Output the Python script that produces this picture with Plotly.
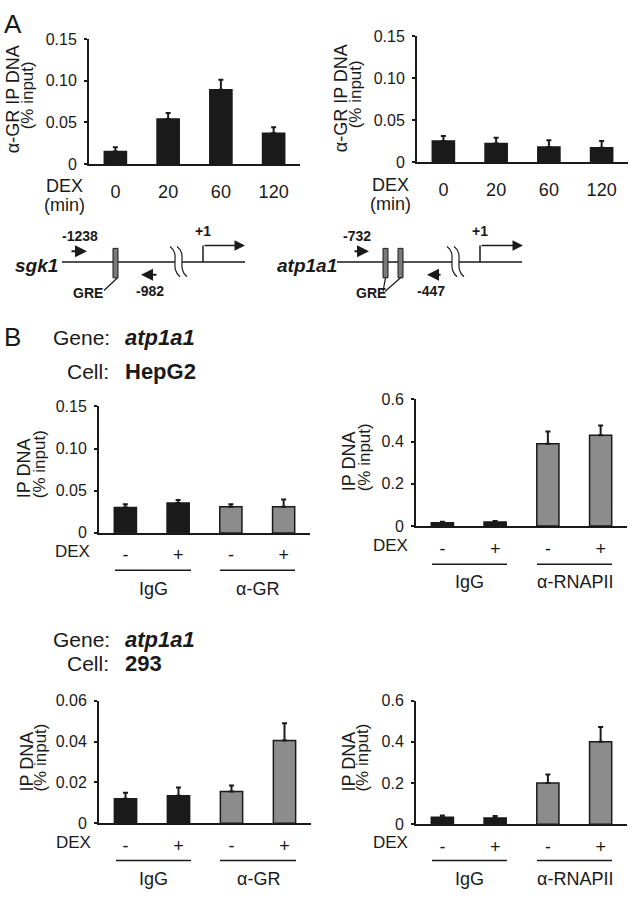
import plotly.graph_objects as go

W, H = 639, 899
FONT = "Liberation Sans, Arial, Helvetica, sans-serif"
INK = "#1a1a1a"
GRAY = "#8c8c8c"

# ---------------- data ----------------
dex_times = ["0", "20", "60", "120"]
sgk1_gr = [0.015, 0.054, 0.089, 0.037]
sgk1_gr_err = [0.005, 0.007, 0.012, 0.007]
atp1a1_gr = [0.025, 0.022, 0.018, 0.017]
atp1a1_gr_err = [0.006, 0.007, 0.008, 0.008]

dex_signs = ["-", "+", "-", "+"]
hepg2_gr = [0.030, 0.0355, 0.031, 0.031]
hepg2_gr_err = [0.004, 0.0035, 0.003, 0.0085]
hepg2_pol = [0.016, 0.019, 0.39, 0.43]
hepg2_pol_err = [0.004, 0.005, 0.058, 0.047]
c293_gr = [0.012, 0.0135, 0.0155, 0.0405]
c293_gr_err = [0.003, 0.004, 0.003, 0.0085]
c293_pol = [0.034, 0.030, 0.20, 0.40]
c293_pol_err = [0.009, 0.010, 0.041, 0.072]

bar_colors_A = [INK, INK, INK, INK]
bar_colors_B = [INK, INK, GRAY, GRAY]

# ---------------- helpers ----------------
def px(x):
    return x / W


def py(y):
    return 1 - y / H


fig = go.Figure()

panels = [
    (sgk1_gr, sgk1_gr_err, bar_colors_A, (89, 300), (159, 31.5), 0.15,
     [0, 0.05, 0.10, 0.15], ["0", "0.05", "0.10", "0.15"], dex_times, 10),
    (atp1a1_gr, atp1a1_gr_err, bar_colors_A, (417, 628), (157, 29), 0.15,
     [0, 0.05, 0.10, 0.15], ["0", "0.05", "0.10", "0.15"], dex_times, 10),
    (hepg2_gr, hepg2_gr_err, bar_colors_B, (99, 310), (535, 406), 0.15,
     [0, 0.05, 0.10, 0.15], ["0", "0.05", "0.10", "0.15"], dex_signs, 5),
    (hepg2_pol, hepg2_pol_err, bar_colors_B, (416, 627), (528, 399), 0.6,
     [0, 0.2, 0.4, 0.6], ["0", "0.2", "0.4", "0.6"], dex_signs, 5),
    (c293_gr, c293_gr_err, bar_colors_B, (99, 311), (831, 706), 0.06,
     [0, 0.02, 0.04, 0.06], ["0", "0.02", "0.04", "0.06"], dex_signs, 5),
    (c293_pol, c293_pol_err, bar_colors_B, (416, 627), (832, 706), 0.6,
     [0, 0.2, 0.4, 0.6], ["0", "0.2", "0.4", "0.6"], dex_signs, 5),
]

layout_axes = {}
for i, (vals, errs, cols, xd, yd, ymax, tv, tt, xt, so) in enumerate(panels):
    n = i + 1
    xa = "x" if n == 1 else f"x{n}"
    ya = "y" if n == 1 else f"y{n}"
    fig.add_trace(go.Bar(
        x=list(range(len(vals))), y=vals, width=0.42,
        marker=dict(color=cols, line=dict(color=INK, width=1.5)),
        error_y=dict(type="data", array=errs, arrayminus=[0] * len(errs), symmetric=False,
                     color=INK, thickness=2, width=2.5),
        xaxis=xa, yaxis=ya, showlegend=False, hoverinfo="skip",
    ))
    xkey = "xaxis" if n == 1 else f"xaxis{n}"
    ykey = "yaxis" if n == 1 else f"yaxis{n}"
    layout_axes[xkey] = dict(
        domain=[px(xd[0]), px(xd[1])], anchor=ya, range=[-0.5, 3.5],
        showline=True, linecolor=INK, linewidth=2, ticks="", showgrid=False, zeroline=False,
        tickvals=[0, 1, 2, 3], ticktext=xt, tickfont=dict(size=18, color=INK, family=FONT),
        ticklabelstandoff=so, fixedrange=True,
    )
    layout_axes[ykey] = dict(
        domain=[py(yd[0]), py(yd[1])], anchor=xa, range=[0, ymax],
        showline=True, linecolor=INK, linewidth=2, ticks="outside", ticklen=3, tickwidth=1.5,
        tickcolor=INK, showgrid=False, zeroline=False,
        tickvals=tv, ticktext=tt, tickfont=dict(size=16, color=INK, family=FONT),
        ticklabelstandoff=4, fixedrange=True,
    )

annotations = []
shapes = []


def text(x, y, s, size=18, xanchor="center", yanchor="middle", angle=0):
    annotations.append(dict(
        x=px(x), y=py(y), xref="paper", yref="paper", text=s, showarrow=False,
        xanchor=xanchor, yanchor=yanchor, textangle=angle,
        font=dict(size=size, color=INK, family=FONT),
    ))


def line(x0, y0, x1, y1, width=1.5):
    shapes.append(dict(type="line", xref="paper", yref="paper",
                       x0=px(x0), y0=py(y0), x1=px(x1), y1=py(y1),
                       line=dict(color=INK, width=width)))


def rect(x0, y0, x1, y1):
    shapes.append(dict(type="rect", xref="paper", yref="paper",
                       x0=px(x0), y0=py(y0), x1=px(x1), y1=py(y1),
                       fillcolor="#7a7a7a", line=dict(color=INK, width=1)))


def wave(x0):
    p = (f"M {px(x0)},{py(243)} C {px(x0 + 11)},{py(251)} {px(x0 - 1)},{py(265)} "
         f"{px(x0 + 10)},{py(274)}")
    shapes.append(dict(type="path", xref="paper", yref="paper", path=p,
                       line=dict(color=INK, width=1.2)))


def arrow(tx, ty, hx, hy, width=2, size=1.0):
    annotations.append(dict(
        x=px(hx), y=py(hy), xref="paper", yref="paper", ax=tx - hx, ay=ty - hy,
        text="", showarrow=True, arrowhead=2, arrowsize=size, arrowwidth=width,
        arrowcolor=INK, standoff=0, startstandoff=0,
    ))


# panel letters
text(2, 16, "A", size=26, xanchor="left")
text(2, 335, "B", size=26, xanchor="left")

# y-axis titles
for (c1, c2, yc, l1) in [
    (13, 27, 93, "α-GR IP DNA"),
    (341, 355, 92, "α-GR IP DNA"),
    (24, 39, 469, "IP DNA"),
    (349, 364, 462, "IP DNA"),
    (27, 41, 768, "IP DNA"),
    (349, 363, 768, "IP DNA"),
]:
    text(c1, yc, l1, size=18, angle=-90)
    text(c2, yc - 4, "(% input)", size=17, angle=-90)

# DEX labels
text(64, 181, "DEX", size=18)
text(64, 201, "(min)", size=18)
text(391, 180, "DEX", size=18)
text(391, 200, "(min)", size=18)
text(72, 554, "DEX", size=17)
text(390, 548, "DEX", size=17)
text(73, 851, "DEX", size=17)
text(391, 851, "DEX", size=17)

# group lines and labels
for (y_line, y_lab, xs, lab2) in [
    (573, 592, (115, 191, 220, 295), "α-GR"),
    (567, 585, (432, 507, 537, 612), "α-RNAPII"),
    (869, 888, (116, 191, 220, 296), "α-GR"),
    (869, 888, (432, 507, 537, 612), "α-RNAPII"),
]:
    line(xs[0], y_line, xs[1], y_line, width=1.5)
    line(xs[2], y_line, xs[3], y_line, width=1.5)
    text((xs[0] + xs[1]) / 2, y_lab, "IgG", size=18)
    text((xs[2] + xs[3]) / 2, y_lab, lab2, size=18)

# gene / cell headers
text(112, 336, "Gene:", size=21, xanchor="right")
text(123, 336, "<b><i>atp1a1</i></b>", size=22, xanchor="left")
text(111, 370, "Cell:", size=21, xanchor="right")
text(123, 370, "<b>HepG2</b>", size=22, xanchor="left")
text(112, 644, "Gene:", size=21, xanchor="right")
text(123, 644, "<b><i>atp1a1</i></b>", size=22, xanchor="left")
text(111, 668, "Cell:", size=21, xanchor="right")
text(123, 668, "<b>293</b>", size=22, xanchor="left")

# ---------------- gene diagrams ----------------
# sgk1
line(62, 259, 175, 259)
line(182, 259, 245, 259)
wave(170)
wave(177)
rect(113, 245, 118, 275)
line(117.5, 275, 104, 288, width=1.2)
line(203, 259, 203, 242, width=1.5)
arrow(203, 242, 245, 242, width=1.5, size=1.4)
arrow(70, 248, 87, 248, width=2, size=1.2)
arrow(158, 272, 141, 272, width=2, size=1.2)
text(36, 262, "<b><i>sgk1</i></b>", size=19)
text(80, 232, "<b>-1238</b>", size=14)
text(88, 290, "<b>GRE</b>", size=14)
text(150, 288, "<b>-982</b>", size=14)
text(203, 227, "<b>+1</b>", size=14)

# atp1a1
line(337, 259, 452, 259)
line(459, 259, 522, 259)
wave(447)
wave(454)
rect(383, 245, 388, 275)
rect(398, 245, 403, 275)
line(385.5, 275, 383, 289, width=1.2)
line(400.5, 275, 385, 289, width=1.2)
line(480, 259, 480, 242, width=1.5)
arrow(480, 242, 523, 242, width=1.5, size=1.4)
arrow(353, 248, 369, 248, width=2, size=1.2)
arrow(442, 272, 427, 272, width=2, size=1.2)
text(307, 262, "<b><i>atp1a1</i></b>", size=19)
text(357, 232, "<b>-732</b>", size=14)
text(371, 290, "<b>GRE</b>", size=14)
text(431, 288, "<b>-447</b>", size=14)
text(480, 227, "<b>+1</b>", size=14)

fig.update_layout(
    width=W, height=H, margin=dict(l=0, r=0, t=0, b=0),
    paper_bgcolor="white", plot_bgcolor="white",
    font=dict(family=FONT, color=INK),
    bargap=0.5, annotations=annotations, shapes=shapes,
    **layout_axes,
)

fig.write_html(
    "out.html",
    config={"displayModeBar": False},
    post_script="document.body.style.margin='0';document.body.style.overflow='hidden';",
)
